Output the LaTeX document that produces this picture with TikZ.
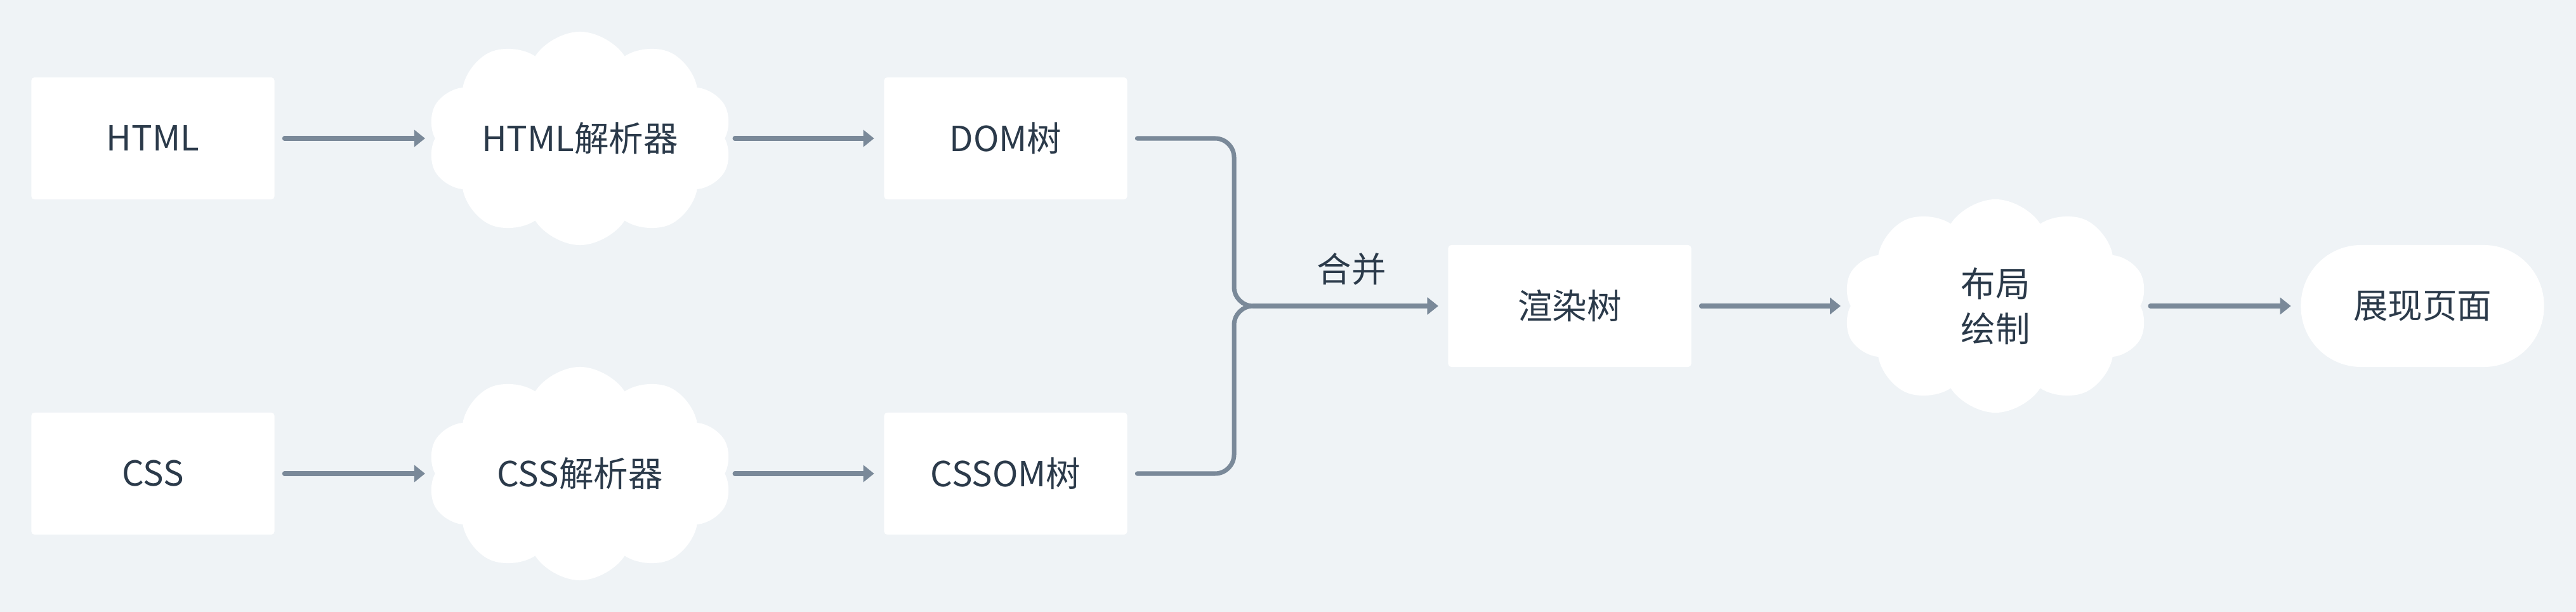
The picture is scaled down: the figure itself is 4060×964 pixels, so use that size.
\documentclass[tikz,border=0pt]{standalone}
\usepackage{fontspec}
\setmainfont{Noto Sans CJK SC}
\usepackage{tikz}
\usetikzlibrary{positioning,shapes.symbols,arrows.meta}
\definecolor{colorbg}{HTML}{EFF3F6}
\definecolor{colorflow}{HTML}{7A8999}
\definecolor{colortext}{HTML}{2B3A4A}
\tikzset{
  stagebox/.style={draw=none, fill=white, rounded corners=0.05cm,
    minimum width=3.83cm, minimum height=1.92cm, inner sep=0pt,
    text=colortext, font=\fontsize{15.5}{20.2}\selectfont},
  stagecloud/.style={cloud, cloud puffs=10, cloud puff arc=115, cloud ignores aspect,
    draw=none, fill=white, minimum width=4.8cm, minimum height=3.36cm, inner sep=0pt,
    text=colortext, align=center, font=\fontsize{15.5}{20.2}\selectfont},
  stagepill/.style={stagebox, rounded corners=0.95cm},
  edgeflow/.style={colorflow, line width=2pt, line cap=round,
    -{Triangle[length=0.17cm, width=0.26cm]}, shorten <=0.15cm, shorten >=0.15cm},
  edgemerge/.style={edgeflow, rounded corners=0.3cm}
}

\begin{document}
\begin{tikzpicture}[x=0.01cm, y=-0.01cm]
\fill[colorbg] (0,0) rectangle (4060,964);
\useasboundingbox (0,0) rectangle (4060,964);

\node[stagebox](html) at (241,218) {HTML};
\node[stagecloud](hparser) at (914,218) {HTML解析器};
\node[stagebox](dom) at (1585,218) {DOM树};

\node[stagebox](css) at (241,746) {CSS};
\node[stagecloud](cparser) at (914,746) {CSS解析器};
\node[stagebox](cssom) at (1585,746) {CSSOM树};

\node[stagebox](render) at (2474,482) {渲染树};
\node[stagecloud](layout) at (3145,482) {布局\\绘制};
\node[stagepill](page) at (3818,482) {展现页面};

\draw[edgeflow] (html) -- (hparser);
\draw[edgeflow] (hparser) -- (dom);
\draw[edgeflow] (css) -- (cparser);
\draw[edgeflow] (cparser) -- (cssom);

\draw[edgemerge] (dom.east) -- (1945,218) -- (1945,482) -- (render.west);
\draw[edgemerge] (cssom.east) -- (1945,746) -- (1945,482)
  -- node[above=0.18cm, text=colortext, font=\fontsize{15.5}{20.2}\selectfont, pos=0.55]
  {合并} (render.west);

\draw[edgeflow] (render) -- (layout);
\draw[edgeflow] (layout) -- (page);
\end{tikzpicture}
\end{document}
